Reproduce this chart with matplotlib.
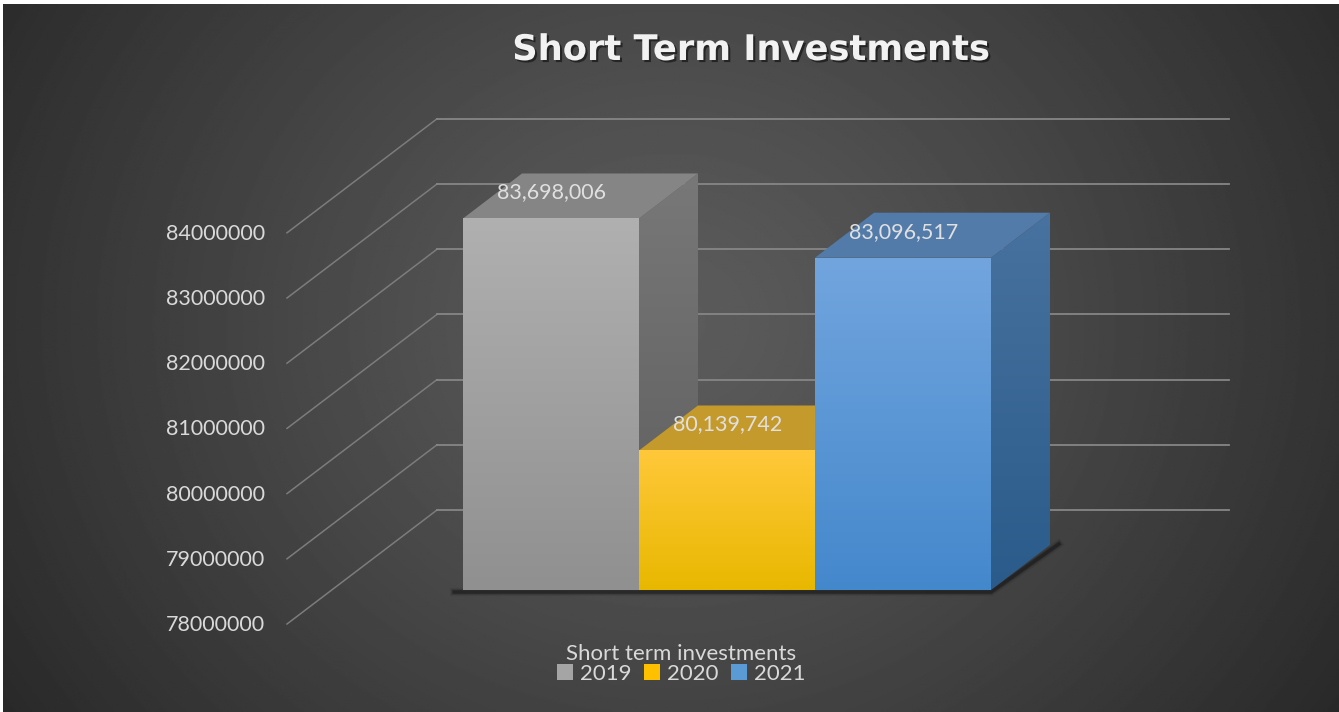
import numpy as np
import matplotlib
matplotlib.use('Agg')
import matplotlib.pyplot as plt
import matplotlib.patheffects as pe
from matplotlib.patches import Patch, Polygon

# data
years = ['2019', '2020', '2021']
values = [83698006, 80139742, 83096517]
ticks = [78000000, 79000000, 80000000, 81000000, 82000000, 83000000, 84000000]
chart_title = 'Short Term Investments'
series_name = 'Short term investments'

# colours (front top, front bottom, side top, side bottom, top face)
front_top = ['#b0b0b0', '#ffc83a', '#72a5de']
front_bottom = ['#909090', '#e8b800', '#4488cc']
side_top = ['#787878', '#a88420', '#48729f']
side_bottom = ['#5c5c5c', '#8a6c10', '#2a5b8a']
top_face = ['#858585', '#c59a2c', '#527ba9']
legend_colors = ['#a5a5a5', '#ffc000', '#5b9bd5']

W, H = 1339, 712
BAR_PX = 176.0          # one category in pixels
UNIT_PX = 65.2 / 1e6    # pixels per unit of value
BASE = ticks[0]


def xs(px):
    return -0.5 + (px - 463) / BAR_PX


def ys(px):
    return BASE + (590 - px) / UNIT_PX


depth_x = 59 / BAR_PX
depth_y = 45 / UNIT_PX
wall_drop = 34 / UNIT_PX
wall_rise = 80 / UNIT_PX

plt.rcParams['font.family'] = ['Lato', 'DejaVu Sans']

fig = plt.figure(figsize=(W / 100, H / 100), dpi=100, facecolor='white')
ax = fig.add_axes([0, 0, 1, 1])
ax.axis('off')

# fondo
gy, gx = np.mgrid[0:1:400j, 0:1:800j]
r = np.sqrt((2 * (gx - 0.5)) ** 2 + (0.6 * (gy - 0.55) * 2) ** 2)
bg = np.clip(0.36 - 0.16 * r ** 1.2, 0, 1)
ax.imshow(bg, cmap='gray', vmin=0, vmax=1, aspect='auto', origin='lower',
          extent=(3 / W, 1, 0, 1 - 4 / H), transform=ax.transAxes, zorder=0)


def gradient_face(points, c_top, c_bottom, z):
    # imagen con degradado vertical recortada al poligono
    pts = np.array(points)
    c1 = np.array(matplotlib.colors.to_rgb(c_top))
    c2 = np.array(matplotlib.colors.to_rgb(c_bottom))
    t = np.linspace(0, 1, 128)[:, None, None]
    img = c1 * (1 - t) + c2 * t
    im = ax.imshow(img, aspect='auto', origin='upper', zorder=z,
                   extent=(pts[:, 0].min(), pts[:, 0].max(), pts[:, 1].min(), pts[:, 1].max()))
    clip = Polygon(pts, closed=True, transform=ax.transData)
    im.set_clip_path(clip)


# rejilla
for t in ticks:
    ax.plot([xs(287), xs(437)], [t - wall_drop, t + wall_rise], color='#7c7c7c', lw=1.1, zorder=1)
    ax.plot([xs(437), xs(1229)], [t + wall_rise, t + wall_rise], color='#868686', lw=1.3, zorder=1)
    ax.text(xs(265), t - 35 / UNIT_PX, str(t), color='#d9d9d9', fontsize=15.5,
            ha='right', va='center', zorder=6)

# sombra de la base
n = len(values)
for lw, alpha in [(6, 0.07), (4, 0.14), (2.5, 0.3)]:
    ax.plot([-0.55, n - 0.5, n - 0.5 + depth_x + 0.05],
            [BASE - 2 / UNIT_PX, BASE - 2 / UNIT_PX, BASE + depth_y + 1 / UNIT_PX],
            color='black', alpha=alpha, lw=lw, zorder=2, solid_joinstyle='miter')

# barras
for i, v in enumerate(values):
    l, h = i - 0.5, i + 0.5
    z = 3 + i * 0.1
    gradient_face([(h, BASE), (h + depth_x, BASE + depth_y), (h + depth_x, v + depth_y), (h, v)],
                  side_top[i], side_bottom[i], z)
    ax.add_patch(Polygon([(l, v), (h, v), (h + depth_x, v + depth_y), (l + depth_x, v + depth_y)],
                         closed=True, fc=top_face[i], ec='none', zorder=z + 0.01))
    gradient_face([(l, BASE), (h, BASE), (h, v), (l, v)], front_top[i], front_bottom[i], z + 0.02)

for i, v in enumerate(values):
    ax.text(i + 0.005, v + 26 / UNIT_PX, f'{v:,}', color='#e0e0e0', fontsize=15.5,
            ha='center', va='center', zorder=6)

ax.text(xs(751), ys(50), chart_title, color='#f2f2f2', fontsize=25.4, fontweight='bold',
        family='DejaVu Sans', ha='center', va='center', zorder=6,
        path_effects=[pe.withSimplePatchShadow(offset=(1.5, -1.5), shadow_rgbFace='black', alpha=0.5)])

handles = [Patch(fc=c, ec='none', label=y) for c, y in zip(legend_colors, years)]
leg = ax.legend(handles=handles, ncol=3, title=series_name, frameon=False, loc='center',
                bbox_to_anchor=(xs(681), ys(664)), bbox_transform=ax.transData,
                fontsize=16, title_fontsize=16, handlelength=0.75, handleheight=0.75,
                handletextpad=0.3, columnspacing=0.55, labelspacing=0, borderpad=0, labelcolor='#d9d9d9')
leg.get_title().set_color('#d9d9d9')
leg._legend_box.sep = 0
leg.set_zorder(6)

ax.set_xlim(xs(0), xs(W))
ax.set_ylim(ys(H), ys(0))
fig.savefig('out.png', dpi=100, facecolor=fig.get_facecolor())
